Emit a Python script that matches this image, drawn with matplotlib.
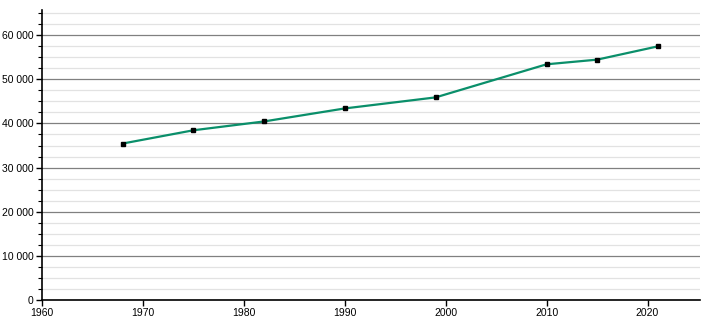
import matplotlib.pyplot as plt
from matplotlib.ticker import MultipleLocator, FuncFormatter

years = [1968, 1975, 1982, 1990, 1999, 2010, 2015, 2021]
population = [35450, 38450, 40450, 43400, 45900, 53400, 54450, 57450]

plt.rcParams['font.family'] = ['Liberation Sans', 'DejaVu Sans']

fig = plt.figure(figsize=(7.1, 3.2), dpi=100)
ax = fig.add_axes([42 / 710, 20 / 320, 658 / 710, 290 / 320])

ax.plot(years, population, color='#0a8f6a', lw=1.6, zorder=3)
ax.plot(years, population, ls='none', marker='s', ms=3.5, color='black', zorder=4)

ax.set_xlim(1960, 2025.2)
ax.set_ylim(0, 65700)
ax.xaxis.set_major_locator(MultipleLocator(10))
ax.yaxis.set_major_locator(MultipleLocator(10000))
ax.yaxis.set_minor_locator(MultipleLocator(2500))
ax.yaxis.set_major_formatter(FuncFormatter(lambda v, p: f'{int(v):,}'.replace(',', ' ')))

ax.grid(axis='y', which='major', color='#808080', lw=0.9, zorder=1)
ax.grid(axis='y', which='minor', color='#e2e2e2', lw=0.9, zorder=1)

for s in ['top', 'right']:
    ax.spines[s].set_visible(False)
for s in ['left', 'bottom']:
    ax.spines[s].set_linewidth(1.2)

ax.tick_params(axis='both', which='major', labelsize=7.5, length=4, width=1, pad=2)
ax.tick_params(axis='y', which='minor', length=3, width=0.8)

fig.savefig('out.png', dpi=100)
